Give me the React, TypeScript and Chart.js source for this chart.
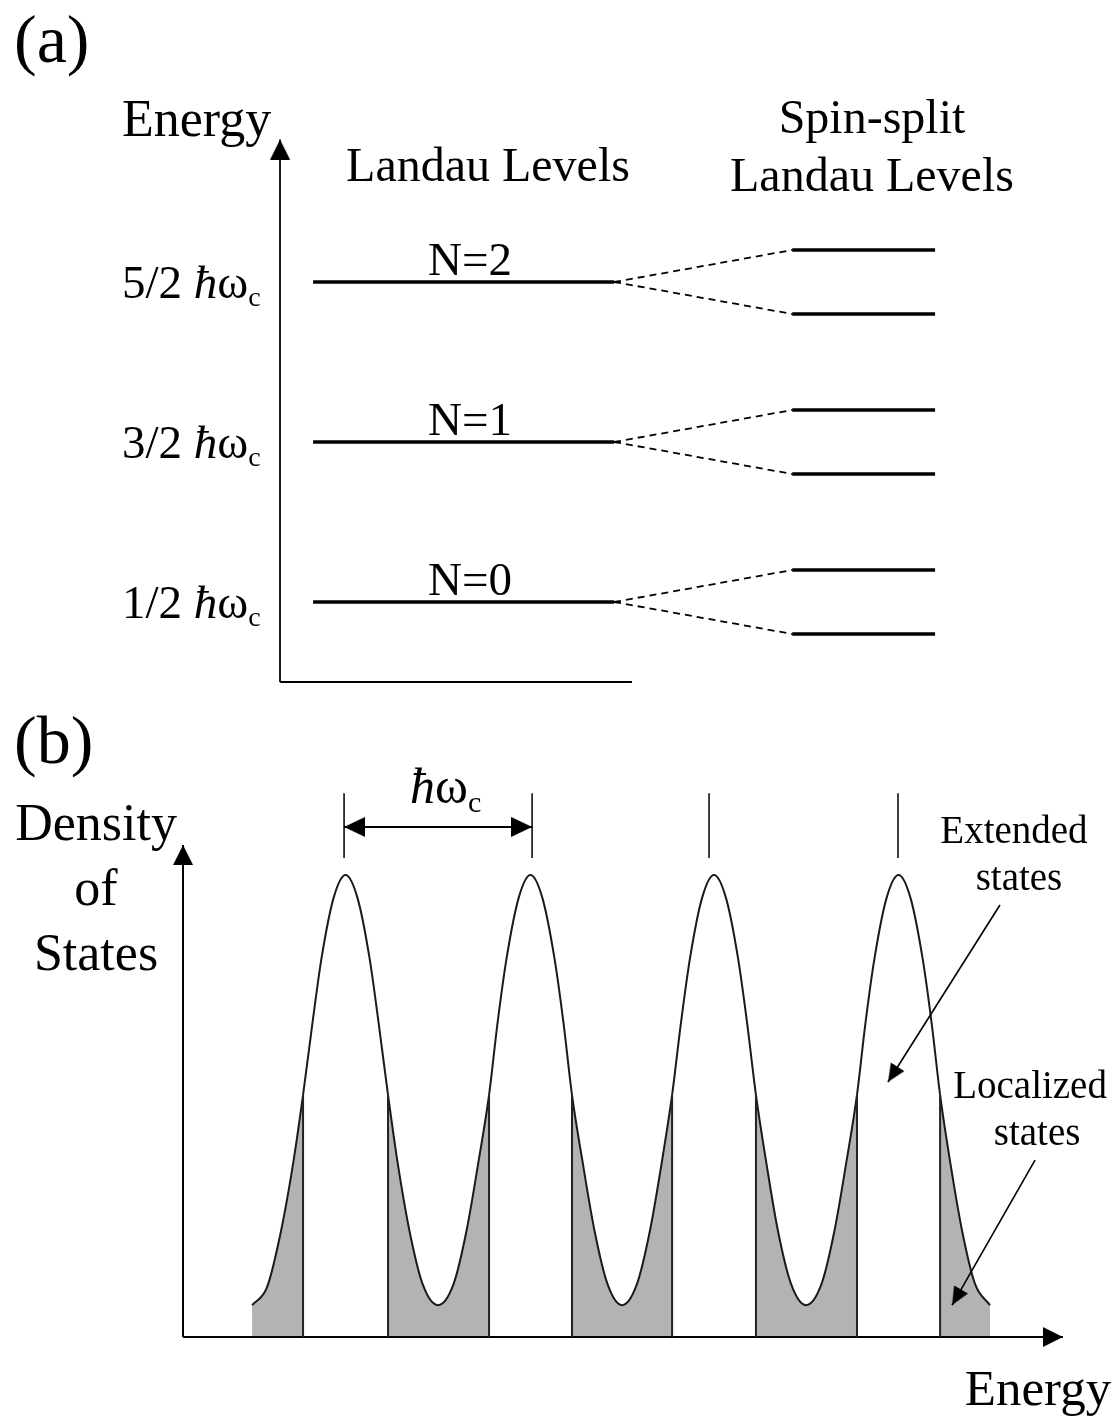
import React, { useEffect, useRef } from 'react';
import { Chart, registerables } from 'chart.js';

Chart.register(...registerables);

const FONT = '"Liberation Serif", "Times New Roman", serif';
const GRAY = '#b3b3b3';
const CLEAR = 'rgba(0,0,0,0)';

// ---------- Panel (a): Landau levels (energies in units of ħωc) ----------
const landauLevels = [0.5, 1.5, 2.5];
const levelNames = ['N=0', 'N=1', 'N=2'];
const levelFractions = ['1/2', '3/2', '5/2'];
const spinSplitting = 0.2;
const landauSpan = [0.94, 9.49];
const spinSpan = [14.55, 18.61];
const axisAEnergyMax = 3.39;
const axisALength = 10;

// ---------- Panel (b): density of states ----------
const dosEnergy = [
  0.374, 0.455, 0.531, 0.598, 0.65, 0.701, 0.75, 0.815, 0.88, 0.945, 1.01, 1.059, 1.11, 1.161, 1.226, 1.297, 1.381,
  1.465, 1.535, 1.6, 1.657, 1.703, 1.752, 1.817, 1.881, 1.946, 2.011, 2.06, 2.106, 2.163, 2.228, 2.298, 2.377,
  2.458, 2.528, 2.593, 2.648, 2.696, 2.745, 2.81, 2.875, 2.94, 3.005, 3.054, 3.102, 3.157, 3.221, 3.292, 3.373,
  3.457, 3.527, 3.592, 3.649, 3.695, 3.744, 3.809, 3.874, 3.939, 4.004, 4.053, 4.099, 4.153, 4.218, 4.288, 4.369,
];
const dosValue = [
  0.069, 0.108, 0.23, 0.38, 0.524, 0.68, 0.82, 0.95, 1.0, 0.95, 0.82, 0.68, 0.524, 0.38, 0.23, 0.115, 0.069,
  0.115, 0.23, 0.38, 0.524, 0.68, 0.82, 0.95, 1.0, 0.95, 0.82, 0.68, 0.524, 0.38, 0.23, 0.115, 0.069,
  0.115, 0.23, 0.38, 0.524, 0.68, 0.82, 0.95, 1.0, 0.95, 0.82, 0.68, 0.524, 0.38, 0.23, 0.115, 0.069,
  0.115, 0.23, 0.38, 0.524, 0.68, 0.82, 0.95, 1.0, 0.95, 0.82, 0.68, 0.524, 0.38, 0.23, 0.115, 0.069,
];
const extendedBands = [
  [0.65, 1.11],
  [1.657, 2.106],
  [2.648, 3.102],
  [3.649, 4.099],
];
const peakMarks = [0.872, 1.89, 2.848, 3.871];
const peakMarkRange = [1.037, 1.177];
const spacingArrowLevel = 1.104;
const axisBEnergyMax = 4.764;
const axisBDosMax = 1.065;
const extendedPointer = [
  { x: 4.423, y: 0.935 },
  { x: 3.817, y: 0.552 },
];
const localizedPointer = [
  { x: 4.613, y: 0.383 },
  { x: 4.164, y: 0.069 },
];

type Part = { t: string; italic?: boolean; sub?: boolean };
type Note = { x: number; y: number; parts: Part[]; size: number; align: 'left' | 'center' };

const hbarOmega = (prefix: string): Part[] => [
  ...(prefix ? [{ t: prefix }] : []),
  { t: 'ħ', italic: true },
  { t: 'ω' },
  { t: 'c', sub: true },
];

const notesA: Note[] = [
  { x: -7.557, y: 3.875, parts: [{ t: '(a)' }], size: 68, align: 'left' },
  { x: -4.489, y: 3.4125, parts: [{ t: 'Energy' }], size: 52, align: 'left' },
  { x: 5.909, y: 3.131, parts: [{ t: 'Landau Levels' }], size: 48, align: 'center' },
  { x: 16.818, y: 3.431, parts: [{ t: 'Spin-split' }], size: 48, align: 'center' },
  { x: 16.818, y: 3.069, parts: [{ t: 'Landau Levels' }], size: 48, align: 'center' },
  ...landauLevels.map((e, i) => ({ x: 5.398, y: e + 0.044, parts: [{ t: levelNames[i] }], size: 47, align: 'center' as const })),
  ...landauLevels.map((e, i) => ({ x: -4.489, y: e - 0.1, parts: hbarOmega(levelFractions[i] + ' '), size: 47, align: 'left' as const })),
];

const notesB: Note[] = [
  { x: -0.915, y: 1.2424, parts: [{ t: '(b)' }], size: 68, align: 'left' },
  { x: -0.471, y: 1.0758, parts: [{ t: 'Density' }], size: 52, align: 'center' },
  { x: -0.471, y: 0.935, parts: [{ t: 'of' }], size: 52, align: 'center' },
  { x: -0.471, y: 0.794, parts: [{ t: 'States' }], size: 52, align: 'center' },
  { x: 1.229, y: 1.1558, parts: hbarOmega(''), size: 50, align: 'left' },
  { x: 4.499, y: 1.0693, parts: [{ t: 'Extended' }], size: 39, align: 'center' },
  { x: 4.526, y: 0.9675, parts: [{ t: 'states' }], size: 39, align: 'center' },
  { x: 4.586, y: 0.5173, parts: [{ t: 'Localized' }], size: 39, align: 'center' },
  { x: 4.624, y: 0.4156, parts: [{ t: 'states' }], size: 39, align: 'center' },
  { x: 4.629, y: -0.1472, parts: [{ t: 'Energy' }], size: 51, align: 'center' },
];

function notesPlugin(id: string, notes: Note[]) {
  return {
    id,
    afterDatasetsDraw(chart: any) {
      const ctx = chart.ctx as CanvasRenderingContext2D;
      const xs = chart.scales.x;
      const ys = chart.scales.y;
      ctx.save();
      ctx.fillStyle = '#000';
      ctx.textBaseline = 'alphabetic';
      ctx.textAlign = 'left';
      for (const n of notes) {
        const fonts = n.parts.map(
          (p) => `${p.italic ? 'italic ' : ''}${Math.round((p.sub ? 0.6 : 1) * n.size)}px ${FONT}`
        );
        let total = 0;
        const widths = n.parts.map((p, i) => {
          ctx.font = fonts[i];
          const w = ctx.measureText(p.t).width;
          total += w;
          return w;
        });
        let px = xs.getPixelForValue(n.x);
        const py = ys.getPixelForValue(n.y);
        if (n.align === 'center') px -= total / 2;
        n.parts.forEach((p, i) => {
          ctx.font = fonts[i];
          ctx.fillText(p.t, px, py + (p.sub ? n.size * 0.17 : 0));
          px += widths[i];
        });
      }
      ctx.restore();
    },
  };
}

function makeHead(len: number, half: number): HTMLCanvasElement {
  const c = document.createElement('canvas');
  c.width = 2 * len;
  c.height = 2 * len;
  const g = c.getContext('2d')!;
  g.fillStyle = '#000';
  g.beginPath();
  g.moveTo(len, len);
  g.lineTo(len + half, 2 * len);
  g.lineTo(len - half, 2 * len);
  g.closePath();
  g.fill();
  return c;
}

function headRotation(ctx: any) {
  const d = ctx.dataset.data;
  const i = ctx.dataIndex;
  const from = i === 0 ? d[1] : d[i - 1];
  const to = d[i];
  const xs = ctx.chart.scales.x;
  const ys = ctx.chart.scales.y;
  const dx = xs.getPixelForValue(to.x) - xs.getPixelForValue(from.x);
  const dy = ys.getPixelForValue(to.y) - ys.getPixelForValue(from.y);
  return (Math.atan2(dx, -dy) * 180) / Math.PI;
}

function lineSet(data: any[], width: number, extra: any = {}) {
  return {
    data,
    borderColor: '#000',
    backgroundColor: CLEAR,
    borderWidth: width,
    fill: false,
    tension: 0,
    pointRadius: 0,
    order: 0,
    ...extra,
  };
}

function arrowSet(pts: { x: number; y: number }[], head: HTMLCanvasElement, width: number, both = false) {
  const n = pts.length;
  return lineSet(pts, width, {
    pointRadius: pts.map((_, i) => (i === n - 1 || (both && i === 0) ? 1 : 0)),
    pointBorderWidth: 0,
    pointStyle: head,
    pointRotation: headRotation,
  });
}

function baseOptions(xr: number[], yr: number[]) {
  return {
    responsive: false,
    animation: false as const,
    devicePixelRatio: 1,
    events: [] as any[],
    layout: { padding: 0, autoPadding: false },
    plugins: { legend: { display: false }, tooltip: { enabled: false } },
    scales: {
      x: { type: 'linear' as const, min: xr[0], max: xr[1], display: false },
      y: { type: 'linear' as const, min: yr[0], max: yr[1], display: false },
    },
  };
}

function buildPanelA(canvas: HTMLCanvasElement) {
  const axisHead = makeHead(20, 10);
  const datasets: any[] = [
    arrowSet([{ x: 0, y: 0 }, { x: 0, y: axisAEnergyMax }], axisHead, 1.8),
    lineSet([{ x: 0, y: 0 }, { x: axisALength, y: 0 }], 1.8),
  ];
  landauLevels.forEach((e) => {
    datasets.push(lineSet([{ x: landauSpan[0], y: e }, { x: landauSpan[1], y: e }], 3.5));
    [1, -1].forEach((s) => {
      const es = e + s * spinSplitting;
      datasets.push(
        lineSet([{ x: landauSpan[1], y: e }, { x: spinSpan[0], y: es }], 1.8, { borderDash: [7, 5] })
      );
      datasets.push(lineSet([{ x: spinSpan[0], y: es }, { x: spinSpan[1], y: es }], 3.5));
    });
  });
  return new Chart(canvas, {
    type: 'line',
    data: { datasets },
    options: baseOptions([-7.955, 23.864], [-0.1125, 4.2625]) as any,
    plugins: [notesPlugin('notesA', notesA)],
  });
}

function inExtended(x: number) {
  return extendedBands.some(([a, b]) => x > a && x < b);
}

function buildPanelB(canvas: HTMLCanvasElement) {
  const axisHead = makeHead(20, 10);
  const dimHead = makeHead(21, 10);
  const pointerHead = makeHead(18, 8);

  const curve = dosEnergy.map((x, i) => ({ x, y: dosValue[i] }));
  const valueAt = (x: number) => {
    let best = 0;
    dosEnergy.forEach((e, i) => {
      if (Math.abs(e - x) < Math.abs(dosEnergy[best] - x)) best = i;
    });
    return dosValue[best];
  };
  const edges: any[] = [];
  extendedBands.flat().forEach((x) => {
    edges.push({ x, y: 0 }, { x, y: valueAt(x) }, { x, y: null });
  });
  const marks: any[] = [];
  peakMarks.forEach((x) => {
    marks.push({ x, y: peakMarkRange[0] }, { x, y: peakMarkRange[1] }, { x, y: null });
  });

  const datasets: any[] = [
    {
      data: curve,
      borderColor: '#1a1a1a',
      borderWidth: 2,
      backgroundColor: CLEAR,
      pointRadius: 0,
      cubicInterpolationMode: 'monotone',
      fill: { value: 0 },
      order: 10,
      segment: {
        backgroundColor: (ctx: any) =>
          inExtended((ctx.p0.parsed.x + ctx.p1.parsed.x) / 2) ? CLEAR : GRAY,
      },
    },
    lineSet(edges, 2, { borderColor: '#222' }),
    lineSet(marks, 1.5),
    arrowSet([{ x: 0, y: 0 }, { x: 0, y: axisBDosMax }], axisHead, 2),
    arrowSet([{ x: 0, y: 0 }, { x: axisBEnergyMax, y: 0 }], axisHead, 2),
    arrowSet(
      [
        { x: peakMarks[0], y: spacingArrowLevel },
        { x: peakMarks[1], y: spacingArrowLevel },
      ],
      dimHead,
      2,
      true
    ),
    arrowSet(extendedPointer, pointerHead, 1.6),
    arrowSet(localizedPointer, pointerHead, 1.6),
  ];
  return new Chart(canvas, {
    type: 'line',
    data: { datasets },
    options: baseOptions([-0.9908, 5.073], [-0.1926, 1.3788]) as any,
    plugins: [notesPlugin('notesB', notesB)],
  });
}

export default function App() {
  const refA = useRef<HTMLCanvasElement>(null);
  const refB = useRef<HTMLCanvasElement>(null);
  useEffect(() => {
    const a = buildPanelA(refA.current!);
    const b = buildPanelB(refB.current!);
    return () => {
      a.destroy();
      b.destroy();
    };
  }, []);
  return (
    <div style={{ position: 'absolute', left: 0, top: 0, width: 1120, height: 1426, background: '#fff' }}>
      <canvas ref={refA} width={1120} height={700} style={{ position: 'absolute', left: 0, top: 0, width: 1120, height: 700 }} />
      <canvas ref={refB} width={1120} height={726} style={{ position: 'absolute', left: 0, top: 700, width: 1120, height: 726 }} />
    </div>
  );
}
